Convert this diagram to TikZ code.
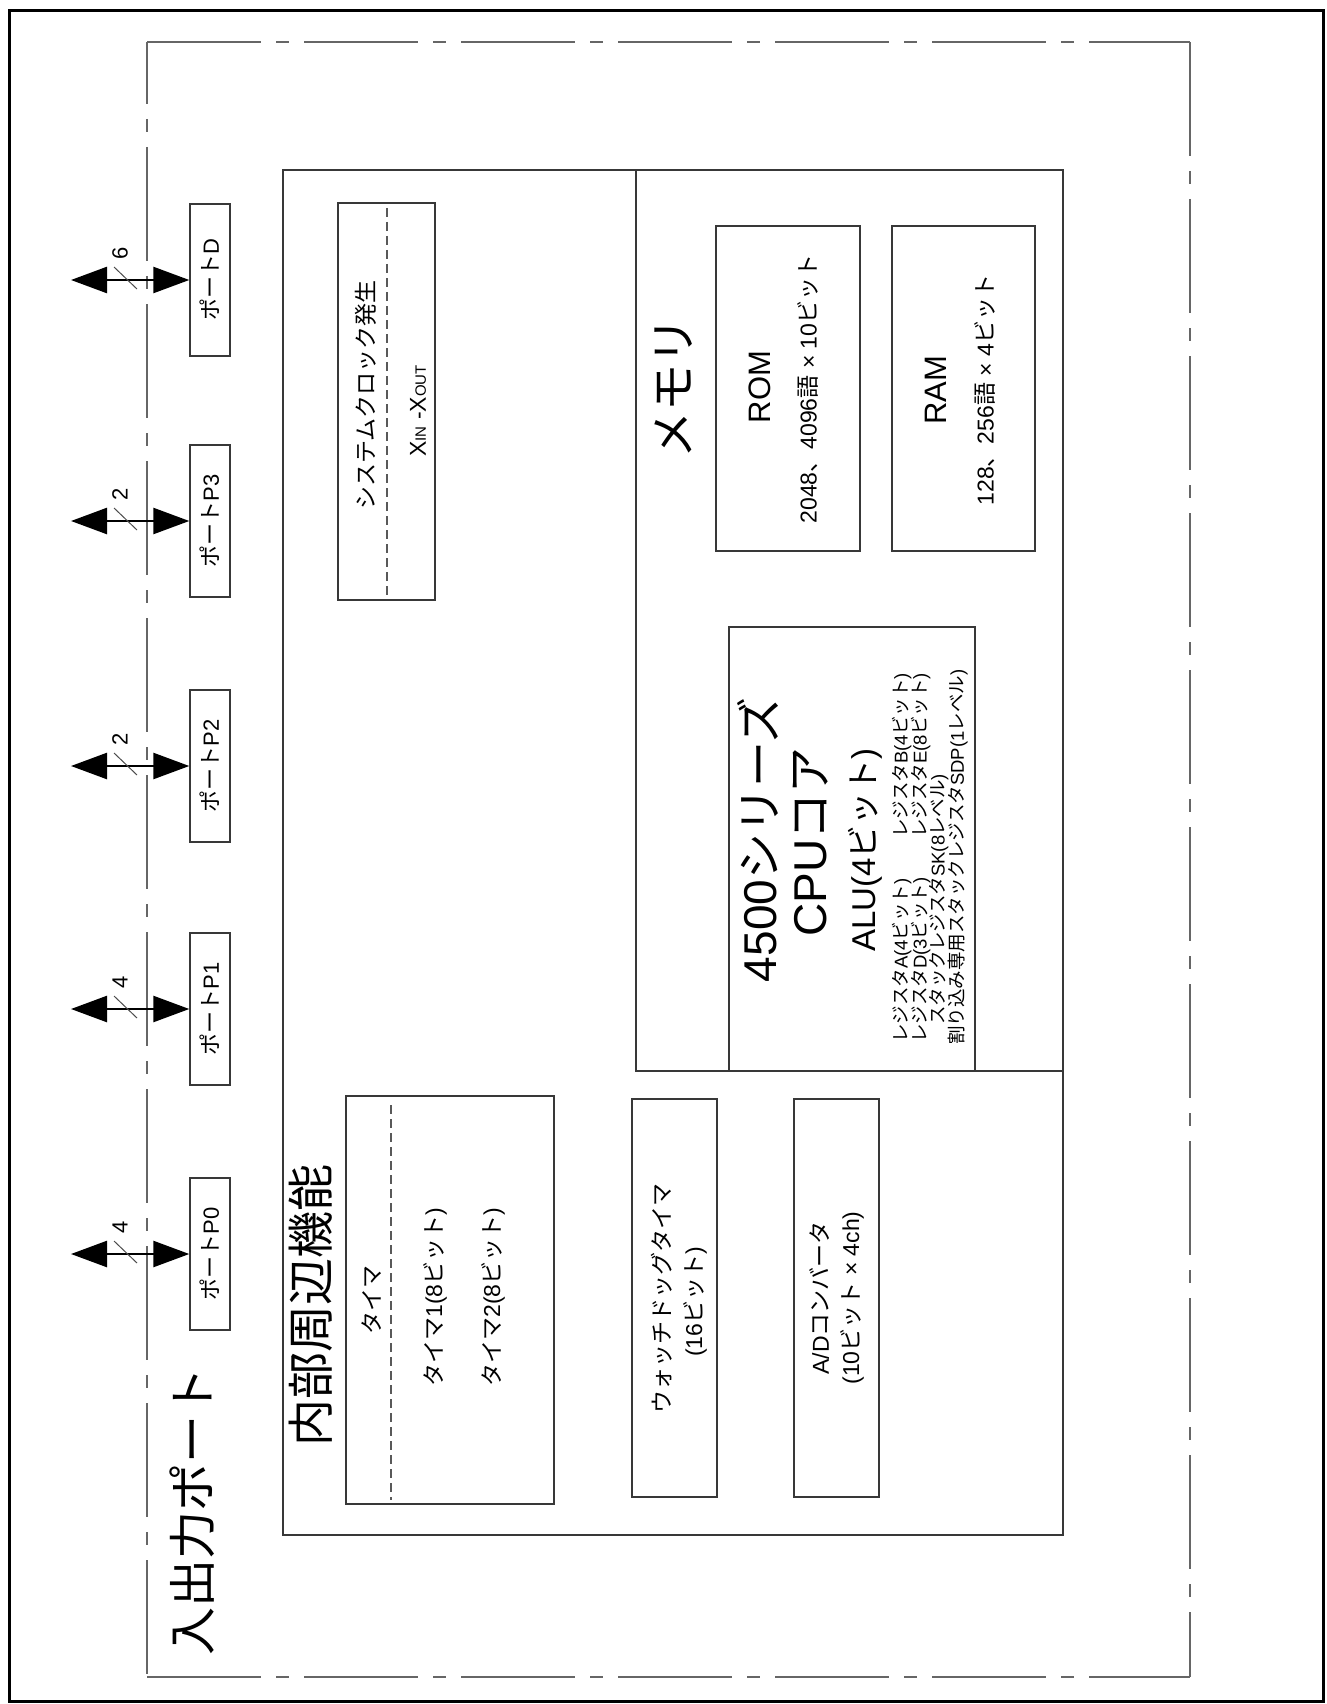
\documentclass[tikz,border=0pt]{standalone}
\usepackage{fontspec}
\usepackage{graphicx}
\setmainfont{Liberation Sans}
\newfontfamily\jp{Noto Sans CJK JP}
\usetikzlibrary{arrows.meta}
\newcommand\J[1]{{\jp #1}}
\newcommand\fsz[1]{\fontsize{#1}{#1}\selectfont}
\begin{document}
\begin{tikzpicture}[x=1pt,y=-1pt,
  box/.style={draw=black!78, line width=1.4pt, inner sep=0pt},
  lbl/.style={rotate=90, inner sep=0pt, font=\fsz{23}},
  bus/.style={line width=2.5pt, {Triangle[length=36pt,width=26pt]}-{Triangle[length=36pt,width=26pt]}},
  slash/.style={draw=black!70, line width=1pt},
  innerdash/.style={draw=black!65, line width=1.2pt, dash pattern=on 9pt off 5pt},
  frame/.style={draw=black!60, line width=1.6pt, dash pattern=on 114pt off 15pt on 13pt off 15pt}]
\useasboundingbox (0,0) rectangle (1326,1704);
% outer frame
\draw[line width=3pt] (9.5,10.5) rectangle (1323,1701);
% dash-dot frame of the I/O port region
\draw[frame, dash phase=52pt] (147,42) -- (147,1677);
\draw[frame] (1190,42) -- (1190,1677);
\draw[frame] (147,42) -- (1190,42);
\draw[frame] (147,1677) -- (1190,1677);
% ports
\foreach \nm/\yy/\k in {D/280/6,P3/521/2,P2/766/2,P1/1009/4,P0/1254/4}{
  \node[box, minimum width=40pt, minimum height=152pt] (p\nm) at (210,\yy) {\rotatebox{90}{\fsz{22}\J{ポート}\nm}};
  \coordinate (a\nm) at (71,\yy);
  \draw[bus] (a\nm) -- (p\nm.west);
  \draw[slash] (114,\yy-13) -- (137,\yy+9);
  \node[lbl, font=\fsz{22}] (n\nm) at (120,\yy-27) {\k};
}
% big boxes
\node[box, minimum width=780pt, minimum height=1365pt] (periph) at (673,852.5) {};
\node[box, minimum width=427pt, minimum height=901pt] (mem) at (849.5,620.5) {};
\node[box, minimum width=246pt, minimum height=444pt] (cpu) at (852,849) {};
\node[box, minimum width=144pt, minimum height=325pt] (rom) at (788,388.5) {};
\node[box, minimum width=143pt, minimum height=325pt] (ram) at (963.5,388.5) {};
\node[box, minimum width=97pt, minimum height=397pt] (clk) at (386.5,401.5) {};
\node[box, minimum width=208pt, minimum height=408pt] (tmr) at (450,1300) {};
\node[box, minimum width=85pt, minimum height=398pt] (wdt) at (674.5,1298) {};
\node[box, minimum width=85pt, minimum height=398pt] (adc) at (836.5,1298) {};
\draw[innerdash] (387,208) -- (387,598);
\draw[innerdash] (391,1105) -- (391,1500);
% titles
\node[lbl, font=\jp\fsz{48}] (tIO) at (192,1511) {入出力ポート};
\node[lbl, font=\jp\fsz{47}] (tPer) at (311,1305) {内部周辺機能};
\node[lbl, font=\jp\fsz{47}] (tMem) at (674,388) {メモリ};
% memory
\node[lbl, font=\fsz{31}] (tRom) at (760,387) {ROM};
\node[lbl] (tRom2) at (808,389) {2048\J{、}4096\J{語} × 10\J{ビット}};
\node[lbl, font=\fsz{31}] (tRam) at (936,390) {RAM};
\node[lbl] (tRam2) at (985,390) {128\J{、}256\J{語} × 4\J{ビット}};
% cpu
\node[lbl, font=\fsz{46}] (tCpu1) at (758,840) {4500\J{シリーズ}};
\node[lbl, font=\fsz{46}] (tCpu2) at (811,842) {CPU\J{コア}};
\node[lbl, font=\fsz{33}] (tAlu) at (865,850) {ALU(4\J{ビット})};
\node[lbl, font=\fsz{18.5}, anchor=west] (rA) at (902,1043) {\J{レジスタ}A(4\J{ビット})};
\node[lbl, font=\fsz{18.5}, anchor=east] (rB) at (902,673) {\J{レジスタ}B(4\J{ビット})};
\node[lbl, font=\fsz{18.5}, anchor=west] (rD) at (921,1043) {\J{レジスタ}D(3\J{ビット})};
\node[lbl, font=\fsz{18.5}, anchor=east] (rE) at (921,673) {\J{レジスタ}E(8\J{ビット})};
\node[lbl, font=\fsz{18.5}, anchor=west] (rSK) at (939,1025) {\J{スタックレジスタ}SK(8\J{レベル})};
\node[lbl, font=\fsz{18.5}, anchor=west] (rSDP) at (958,1045) {\J{割り込み専用スタックレジスタ}SDP(1\J{レベル})};
% clock
\node[lbl] (tClk) at (366,395) {\J{システムクロック発生}};
\node[lbl] (tX) at (418,411) {X{\fsz{15}IN} -X{\fsz{15}OUT}};
% timer
\node[lbl] (tT0) at (372,1300) {\J{タイマ}};
\node[lbl] (tT1) at (435,1297) {\J{タイマ}1(8\J{ビット})};
\node[lbl] (tT2) at (493,1297) {\J{タイマ}2(8\J{ビット})};
% watchdog
\node[lbl] (tW1) at (662,1298) {\J{ウォッチドッグタイマ}};
\node[lbl] (tW2) at (695,1302) {(16\J{ビット})};
% A/D
\node[lbl] (tA1) at (820,1298) {A/D\J{コンバータ}};
\node[lbl] (tA2) at (852,1298) {(10\J{ビット} × 4ch)};
\end{tikzpicture}
\end{document}
